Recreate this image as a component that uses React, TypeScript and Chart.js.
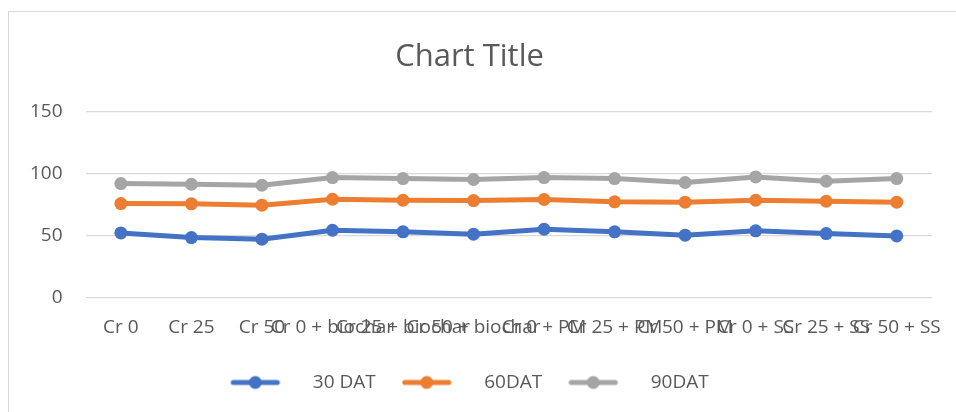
import React, { useEffect, useRef } from 'react';
import { Chart, registerables } from 'chart.js';

Chart.register(...registerables);

const categories = [
  'Cr 0', 'Cr 25', 'Cr 50',
  'Cr 0 + biochar', 'Cr 25 + biochar', 'Cr 50 + biochar',
  'Cr 0 + PM', 'Cr 25 + PM', 'Cr 50 + PM',
  'Cr 0 + SS', 'Cr 25 + SS', 'Cr 50 + SS',
];
const dat30 = [51.8, 48.1, 46.8, 54.0, 52.7, 50.8, 54.8, 52.7, 50.0, 53.5, 51.3, 49.4];
const dat60 = [75.5, 75.3, 74.2, 79.0, 78.2, 77.9, 78.8, 76.9, 76.6, 78.2, 77.4, 76.6];
const dat90 = [91.6, 91.1, 90.3, 96.5, 95.7, 94.9, 96.5, 95.7, 92.5, 97.0, 93.5, 95.7];
const seriesNames = ['30 DAT', '60DAT', '90DAT'];
const seriesColors = ['#4472C4', '#ED7D31', '#A5A5A5'];
const yMin = 0;
const yMax = 150;
const yStep = 50;
const chartTitle = 'Chart Title';

const FONT = "'Open Sans', sans-serif";
const TEXT = '#595959';

function makeIcon(color: string): HTMLCanvasElement {
  const c = document.createElement('canvas');
  c.width = 73;
  c.height = 16;
  const ctx = c.getContext('2d')!;
  ctx.strokeStyle = color;
  ctx.lineWidth = 5;
  ctx.lineCap = 'round';
  ctx.beginPath();
  ctx.moveTo(3, 8);
  ctx.lineTo(47, 8);
  ctx.stroke();
  ctx.fillStyle = color;
  ctx.beginPath();
  ctx.arc(25, 8, 6.5, 0, Math.PI * 2);
  ctx.fill();
  return c;
}

export default function App() {
  const ref = useRef<HTMLCanvasElement | null>(null);

  useEffect(() => {
    if (!ref.current) return;
    const icons = seriesColors.map(makeIcon);
    const values = [dat30, dat60, dat90];
    const chart = new Chart(ref.current, {
      type: 'line',
      data: {
        labels: categories,
        datasets: values.map((v, i) => ({
          label: seriesNames[i],
          data: v,
          borderColor: seriesColors[i],
          backgroundColor: seriesColors[i],
          borderWidth: 5,
          pointRadius: 6.5,
          pointBorderWidth: 0,
          pointBackgroundColor: seriesColors[i],
          tension: 0,
          fill: false,
        })),
      },
      options: {
        animation: false,
        responsive: false,
        maintainAspectRatio: false,
        layout: { padding: { left: -2, right: 37, top: 0, bottom: 10 } },
        plugins: {
          title: {
            display: true,
            text: chartTitle,
            color: TEXT,
            font: { family: FONT, size: 31, weight: 'normal' },
            padding: { top: 27, bottom: 35 },
          },
          legend: {
            position: 'bottom',
            labels: {
              usePointStyle: true,
              pointStyleWidth: 73,
              padding: 26,
              color: TEXT,
              font: { family: FONT, size: 19 },
              generateLabels: (c: any) => {
                const items = Chart.defaults.plugins.legend.labels.generateLabels(c);
                return items.map((it: any, i: number) => ({ ...it, pointStyle: icons[i] }));
              },
            },
          },
          tooltip: { enabled: false },
        },
        scales: {
          x: {
            offset: true,
            grid: { display: false, drawTicks: false },
            border: { display: false },
            ticks: {
              color: TEXT,
              font: { family: FONT, size: 19 },
              autoSkip: false,
              maxRotation: 0,
              minRotation: 0,
              padding: 19,
            },
            afterFit: (s: any) => { s.height -= 11; },
          },
          y: {
            min: yMin,
            max: yMax,
            ticks: {
              stepSize: yStep,
              color: TEXT,
              font: { family: FONT, size: 19 },
              padding: 23,
            },
            grid: { color: '#D9D9D9', lineWidth: 1.3, drawTicks: false },
            border: { display: false },
          },
        },
      },
    });
    return () => chart.destroy();
  }, []);

  return (
    <div style={{ position: 'absolute', left: 0, top: 0, width: 956, height: 412, overflow: 'hidden', background: '#fff' }}>
      <div
        style={{
          position: 'absolute',
          left: 8,
          top: 11,
          width: 962,
          height: 410,
          borderTop: '1.5px solid #D9D9D9',
          borderLeft: '1.5px solid #D9D9D9',
          boxSizing: 'border-box',
        }}
      >
        <canvas ref={ref} width={960} height={400} style={{ display: 'block' }} />
      </div>
    </div>
  );
}
